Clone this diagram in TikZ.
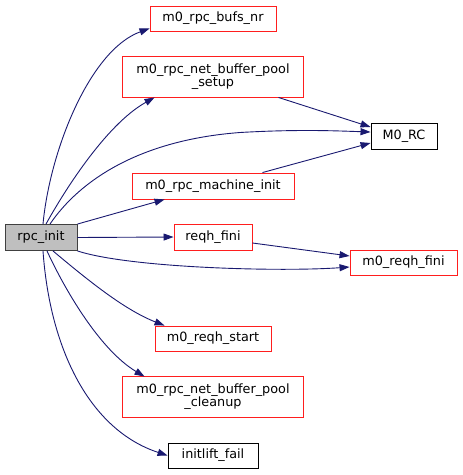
\documentclass[tikz,border=0pt]{standalone}
\usepackage{fontspec}
\setmainfont{DejaVu Sans}
\usetikzlibrary{arrows.meta}
\definecolor{edgeblue}{RGB}{25,25,112}
\definecolor{boxred}{RGB}{255,30,30}
\begin{document}
\begin{tikzpicture}[x=1pt, y=-1pt,
    fn/.style={draw=boxred, line width=0.9pt, fill=white, inner sep=0pt, text=black,
        font=\fontsize{12.8}{15}\selectfont},
    fnblack/.style={fn, draw=black},
    fnframe/.style={draw=boxred, line width=0.9pt},
    call/.style={draw=edgeblue, line width=0.9pt, -{Triangle[length=10pt, width=7pt]}, edgeblue}]
            \useasboundingbox (0,0) rectangle (463,475);

            \node[fn, draw=black!75, fill=black!25, minimum width=72pt, minimum height=26pt] (init) at (41,237.5) {rpc\_init};

            \node[fn, minimum width=126pt, minimum height=25pt] (bufs) at (213,18.5) {m0\_rpc\_bufs\_nr};
            \node[fn, draw=none, minimum width=180pt, minimum height=40pt] (setup) at (213,77)
                {\begin{tabular}{@{}c@{}}m0\_rpc\_net\_buffer\_pool\\[-2.5pt]\_setup\end{tabular}};
            \node[fnblack, minimum width=66pt, minimum height=26pt] (rc) at (404,136) {M0\_RC};
            \node[fn, minimum width=162pt, minimum height=26pt] (mach) at (213,186) {m0\_rpc\_machine\_init};
            \node[fn, minimum width=78pt, minimum height=26pt] (rfini) at (213,237) {reqh\_fini};
            \node[fn, minimum width=107pt, minimum height=25pt] (mfini) at (403.5,262.5) {m0\_reqh\_fini};
            \node[fn, minimum width=116pt, minimum height=25pt] (start) at (213,338.5) {m0\_reqh\_start};
            \node[fn, draw=none, minimum width=180pt, minimum height=40pt] (cleanup) at (213,397)
                {\begin{tabular}{@{}c@{}}m0\_rpc\_net\_buffer\_pool\\[-2.5pt]\_cleanup\end{tabular}};
            \node[fnblack, minimum width=90pt, minimum height=25pt] (fail) at (213,455.5) {initlift\_fail};

            \foreach \b in {setup, cleanup} {
                    \draw[fnframe] (\b.south west) rectangle (\b.north east);
                }

            \draw[call] ([xshift=2pt]init.north) .. controls (50,150) and (90,50) .. ([yshift=3pt]bufs.south west);
            \draw[call] ([xshift=5pt]init.north) .. controls (62,195) and (105,125) .. ([xshift=32pt]setup.south west);
            \draw[call] ([xshift=9pt]init.north) .. controls (80,180) and (140,140) .. (240,132.5)
                .. controls (300,129) and (340,131) .. ([yshift=4pt]rc.west);
            \draw[call] (init.north east) -- ([xshift=33pt]mach.south west);
            \draw[call] (init.east) -- (rfini.west);
            \draw[call] (init.south east) .. controls (130,268) and (280,272) .. ([yshift=-4.5pt]mfini.west);
            \draw[call] ([xshift=12pt]init.south) .. controls (90,282) and (125,310) .. ([xshift=10pt]start.north west);
            \draw[call] ([xshift=6pt]init.south) .. controls (65,290) and (100,350) .. ([xshift=22pt]cleanup.north west);
            \draw[call] ([xshift=2pt]init.south) .. controls (50,350) and (90,430) .. (fail.west);

            \draw[call] ([xshift=-25pt]setup.south east) -- ([yshift=9pt]rc.west);
            \draw[call] ([xshift=-32pt]mach.north east) -- ([yshift=-7pt]rc.west);
            \draw[call] ([yshift=-6pt]rfini.east) -- ([yshift=6.5pt]mfini.west);

        \end{tikzpicture}
\end{document}
